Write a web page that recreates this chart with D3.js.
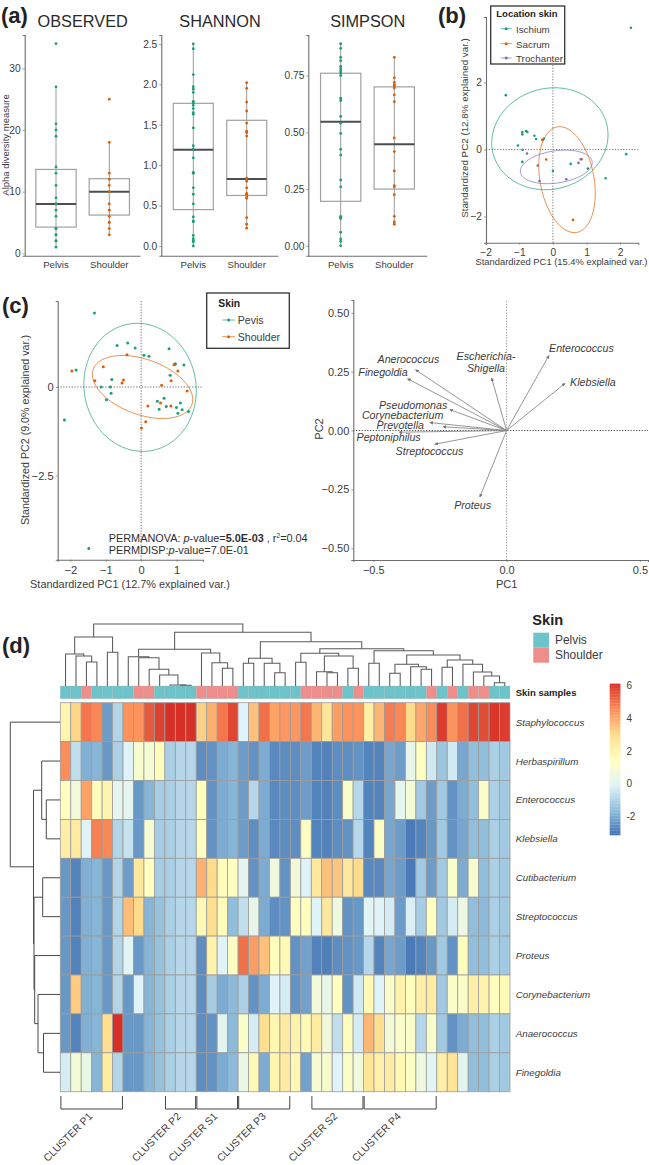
<!DOCTYPE html>
<html><head><meta charset="utf-8">
<script src="https://cdnjs.cloudflare.com/ajax/libs/d3/7.8.5/d3.min.js"></script>
<style>html,body{margin:0;padding:0;background:#fff}svg{display:block}text{font-family:"Liberation Sans",Arial,sans-serif}</style>
</head><body><svg id="c" width="649" height="1165"></svg>
<script>
// ---------- (a) alpha diversity ----------
const groups = ["Pelvis","Shoulder"];
const observedTicks = [0,10,20,30];
const observedPelvis = [1,2,2,3,3,4,4,6,7,8,8,9,11,13,14,19,20,21,27,34];
const observedShoulder = [3,4,5,5,6,7,8,10,11,12,13,18,25];
const observedBoxes = [[4.25,8,13.6,1,27],[6.2,10,12.1,3,18]];
const shannonTicks = [0,0.5,1,1.5,2,2.5];
const shannonPelvis = [0,.05,.07,.09,.13,.3,.31,.36,.52,.64,.72,.9,.91,1.09,1.2,1.24,1.46,1.63,1.65,1.7,1.74,1.77,1.79,1.9,1.94,1.97,2.12,2.44,2.5];
const shannonShoulder = [.22,.27,.35,.59,.61,.64,.65,.72,.8,.82,.84,1.36,1.4,1.42,1.52,1.67,1.78,1.95,2.02];
const shannonBoxes = [[.45,1.19,1.765,0,2.5],[.625,.83,1.555,.22,2.02]];
const simpsonTicks = [0,0.25,0.5,0.75];
const simpsonPelvis = [0,.02,.03,.06,.12,.125,.13,.26,.29,.40,.425,.495,.54,.57,.64,.65,.75,.76,.77,.78,.79,.815,.83,.87,.89];
const simpsonShoulder = [.095,.105,.13,.225,.26,.265,.33,.415,.475,.635,.665,.695,.705,.71,.72,.74,.83];
const simpsonBoxes = [[.196,.546,.76,0,.89],[.25,.447,.70,.09,.83]];

// ---------- (b) PCA by location ----------
const ischium = [[2.32,3.63],[-1.40,1.62],[-.91,.52],[-.91,.45],[-.8,.55],[-.76,.52],[-.55,.41],[-.5,.31],[-.27,.32],[-.31,.28],[-1.04,.12],[-.9,-.01],[-.91,-.37],[0,-.64],[.53,-.43],[1.04,-.57],[1.57,-.86],[2.18,-.14]];
const sacrum = [[-.2,-.3],[.85,-.29],[.6,-2.1],[-.31,.29]];
const trochanter = [[-.77,-.12],[-.45,-.48],[-.4,-.94],[.4,-.89],[.76,-.4],[.83,-.29]];
const locationNames = ["Ischium","Sacrum","Trochanter"];
// centre x, centre y, half width, half height, correlation
const locationEllipses = [[-.09,.32,1.73,1.52,.08],[.42,-.9,.84,1.58,-.26],[.1,-.52,1.07,.5,.25]];
const bTicksX = [-2,-1,0,1,2];
const bTicksY = [-2,0,2];

// ---------- (c) PCA by skin ----------
const pelvisPts = [[-1.32,2.09],[-.68,1.17],[-.38,1.24],[-.17,1.10],[.79,1.08],[.08,.90],[.22,.87],[-1.84,.48],[.97,.66],[.95,.64],[1.21,.62],[.82,.33],[-.83,.21],[-1.13,0],[-.87,0],[-.85,-.18],[-.98,-.36],[-2.17,-.93],[.46,-.40],[.65,-.32],[.51,-.63],[.71,-.55],[1.0,-.58],[1.11,-.45],[1.16,-.64],[1.04,-.74],[1.34,-.69],[-1.48,-4.56]];
const shoulderPts = [[-1.96,.45],[-1.07,.57],[-1.31,.18],[-.54,.11],[-.50,.20],[-.40,.91],[.93,.63],[1.04,.45],[.85,.18],[.58,.05],[1.30,-.11],[.55,-.45],[.19,-.54],[.84,-.54],[.13,-.98],[.01,-1.16]];
const skinNames = ["Pevis","Shoulder"];
const skinEllipses = [[-.03,-.01,1.59,1.81,-.05],[.04,0,1.42,.89,-.4]];
const cTicksX = [-2,-1,0,1];
const cTicksY = [-2.5,0];

// ---------- (c) loadings ----------
const loadingNames = ["Enterococcus","Klebsiella","Escherichia-Shigella","Anerococcus","Finegoldia","Pseudomonas","Corynebacterium","Prevotella","Peptoniphilus","Streptococcus","Proteus"];
const loadingPC1 = [.159,.219,-.056,-.341,-.371,-.2125,-.2875,-.2375,-.4025,-.269,-.1];
const loadingPC2 = [.319,.2,.223,.258,.22,.089,.034,.016,-.007,-.058,-.282];
const loadTicksX = [-.5,0,.5];
const loadTicksY = [-.5,-.25,0,.25,.5];

// ---------- (d) heatmap ----------
const taxa = ["Staphylococcus","Herbaspirillum","Enterococcus","Klebsiella","Cutibacterium","Streptococcus","Proteus","Corynebacterium","Anaerococcus","Finegoldia"];
const sampleSkin = "PPSPPPPSSPPPPSSSSPPPPPPSSSSPSPPPPPPSPSPSSPP".split("");
const staphylococcus = [1.9,3.1,4.9,4.6,-2.3,-1,4.4,4.4,5.4,5.8,6.1,6.1,6.1,3.2,3.8,4.9,5.7,-.1,3.5,5,4.1,4.3,4.3,4.9,3.7,2.6,4.2,4.4,4.4,2.2,3.7,4.8,4.6,3,4,4.5,5.9,4.4,5,5.7,5.6,6,5.9];
const herbaspirillum = [4.5,-.7,-1.9,-1.8,-2.4,-1.1,-.1,1,.9,1.5,-1.1,-.9,-.9,-2.6,-2.5,-2,-1.8,-2.3,-2.5,-2,-2.7,-2.6,-2.6,-2.3,-2.8,-2.85,-2.6,-2.6,-2.5,-2.8,-2.8,-2.1,-2.3,.3,1.4,-.4,-1.4,-.4,-2.1,-1.6,-1.6,-1.1,-1.3];
const enterococcus = [1.4,.7,4.1,1.5,1.9,.2,.2,-2.4,-1.8,-1.2,-1.1,-.9,-.9,1.5,-2.5,-2,-1.8,-2.3,-.9,-2,-2.7,-2.6,-2.6,-2.3,-2.8,-2.85,-2.6,1.1,-.9,-2.8,-2.8,-2.1,.2,.8,-1.3,-2.3,-1.3,-2.5,-2,-1.6,1.1,-1.1,-1.3];
const klebsiella = [2.2,2.4,-.1,4.7,4.6,-1,-.6,-2.4,.9,-1.2,-1.1,-.9,-.9,1.4,-2.5,-2,-1.8,-2.3,-2.6,-2,-2.7,-2.6,-2.6,1.3,-2.8,-2.85,-2.6,-2.5,-.9,-2.8,1.3,-2.1,-2.3,-3,-2.8,-2.4,-1.3,-2.5,-2.1,-1.6,-1.6,-1.1,-1.3];
const cutibacterium = [-2.4,-2.8,-1.9,-1.8,-2.4,-1,-2.3,2.5,1.4,-1.2,-1.1,-.9,-.9,3.8,3,1.5,1.4,.2,-2.5,-2,.6,-2.5,.7,-.1,2.5,3.5,3.4,2.5,3,-2.7,-2.7,-2.1,-2.3,-3,-1.3,-2.3,-1.3,1.1,-2,1,-1.6,-1.1,-1.3];
const streptococcus = [-2.4,-2.85,-1.9,-1.8,-2.4,-1,3.6,3,-1.8,-1.5,-1.1,-.9,-.9,1.7,2.9,1.6,-1.6,-.7,.3,-2,-2.6,-2.5,1.4,1.4,-.1,2.5,.6,-2.5,-2.4,0,-.1,-.3,-2.3,-.2,-1.2,1.4,-1.3,-.3,.5,-1.6,-1.7,-1.1,-1.3];
const proteus = [-2.4,-2.85,-1.9,-1.8,-2.4,-1,0,-2.4,-1.8,-1.5,-1.1,-.9,-.9,-2.6,2,-.1,1.3,5,4.2,3.5,1.5,1.7,-2.5,-2.2,-2.85,-2.9,-2.6,-2.5,-2.4,-.9,-2.8,-2.1,-2.3,-3,-2.8,-2.4,-1.3,-2.5,1.5,-1.6,-1.6,-1.1,-1.3];
const corynebacterium = [-2.4,3.3,-1.9,-1.8,-2.4,-1,-2.4,-.1,-1.8,-1.5,-1.1,-.9,-.9,-2.6,-1.2,-2,-1.7,-1.1,-2.5,-2,-.1,-.3,-2.5,-2.2,.7,.3,1.4,-2.5,-.4,1.7,-.1,1.1,2,1.5,2.2,2.3,-1.3,1.2,1.2,2.2,2,1.5,1.7];
const anaerococcus = [-2.4,-2.8,-1.9,-1.8,2.9,6.1,-2.4,-2.4,-1.8,-1.5,-1.1,-.9,-.9,-2.6,-2.5,.1,-1.7,1.1,-.3,2.9,1.8,2.4,2,1.7,2.3,.7,-.7,1.5,-.3,3.7,2.9,.8,1.1,1.1,-.9,1.1,-1.3,-2.5,-2,-1.6,-1.6,-1.1,-1.3];
const finegoldia = [-.3,.8,.4,-1.8,2.3,-1,-2.4,-2.4,-1.8,-1.5,-1.1,-.9,-.9,-2.6,-2.5,-2,-1.7,.4,1.7,-2,1.9,2.4,1.8,-2.2,.9,1,-.1,1.2,.6,2.6,2.1,2.3,1.7,1.3,.6,0,2.2,2.7,.1,-1.6,-1.6,-1.1,-1.3];
const heatRows = [staphylococcus,herbaspirillum,enterococcus,klebsiella,cutibacterium,streptococcus,proteus,corynebacterium,anaerococcus,finegoldia];
const heatStops = [-3.1,-1.6,-.1,1.4,2.9,4.5,6.1];
const heatColours = ["#4575B4","#91BFDB","#E0F3F8","#FFFFBF","#FEE090","#FC8D59","#D73027"];
const legendTicks = [-2,0,2,4,6];
// dendrograms: [height, left, right]; a number is a leaf index
const sampleTree = [62,
  [49,[32,0,[30,1,[24,2,3]]],[33.7,4,5]],
  [53.7,
    [36.7,
      [29.3,6,[28.3,7,[16.7,8,[11,9,[1,10,[.7,11,12]]]]]],
      [33,13,[23.3,14,[17.7,15,16]]]],
    [44.3,
      [27.7,[22.7,17,18],[22.7,19,[13.3,20,21]]],
      [37.3,
        [32.7,[23.7,22,23],[30,[14.3,24,[13.3,25,26]],[17.7,27,28]]],
        [35.3,[22.7,29,30],
          [31,
            [21.7,[12.7,31,32],[19.3,33,[16.7,34,35]]],
            [26,[18.7,36,37],[21.7,38,[14,39,[10,40,[3.3,41,42]]]]]]]]]]];
const taxonTree = [49.7,0,[26.5,[18.3,1,[13.7,2,3]],[26,[17.3,4,5],[25.3,6,[22,7,[16.5,8,9]]]]]];
const clusterNames = ["CLUSTER P1","CLUSTER P2","CLUSTER S1","CLUSTER P3","CLUSTER S2","CLUSTER P4"];
const clusterFirst = [0,10,13,17,24,29];
const clusterLast = [5,12,16,21,28,35];

// ---------- drawing ----------
const GREEN="#1B9E77", ORANGE="#D95F02", PURPLE="#7570B3", TEXT="#3c3c3c", AXIS="#6e6e6e";
const svg = d3.select("#c");
const label=(x,y,s,size,o={})=>{const t=svg.append("text").attr("x",x).attr("y",y).attr("font-size",size)
  .attr("fill",o.fill||TEXT).attr("text-anchor",o.anchor||"start").text(s);
  if(o.bold)t.attr("font-weight","bold"); if(o.italic)t.attr("font-style","italic");
  if(o.rot!==undefined)t.attr("transform",`rotate(${o.rot} ${x} ${y})`); return t;};
function axes(x,y,ticksX,ticksY,h,fs,fmtX,fmtY,xPad){
  const gy=svg.append("g").attr("transform",`translate(${x.range()[0]},0)`)
    .call(d3.axisLeft(y).tickValues(ticksY).tickSize(2).tickPadding(2).tickFormat(fmtY));
  const gx=svg.append("g").attr("transform",`translate(0,${y.range()[0]})`)
    .call(ticksX?d3.axisBottom(x).tickValues(ticksX).tickSize(2).tickPadding(xPad||4).tickFormat(fmtX):d3.axisBottom(x).tickValues([]).tickSize(0));
  [gx,gy].forEach(g=>{g.selectAll("path").attr("stroke",AXIS).attr("stroke-width",1.1);
    g.selectAll("line").attr("stroke",AXIS).attr("stroke-width",.7);
    g.selectAll("text").attr("fill",TEXT).attr("font-size",fs).attr("font-family",'"Liberation Sans",Arial,sans-serif');});
  return gx;
}
function boxPanel(title,titleX,left,right,pos,bw,y,ticks,fmt,boxes,pel,sho){
  const x=d3.scalePoint().domain(groups).range(pos);
  const xAxis=d3.scaleLinear().domain([left,right]).range([left,right]);
  label(titleX,27,title,16.3,{anchor:"middle",fill:"#2a2a2a"});
  [pel,sho].forEach((vals,g)=>{
    const cx=x(groups[g]),b=boxes[g];
    svg.append("line").attr("x1",cx).attr("x2",cx).attr("y1",y(b[3])).attr("y2",y(b[4])).attr("stroke","#9a9a9a").attr("stroke-width",1);
    svg.append("rect").attr("x",cx-bw/2).attr("width",bw).attr("y",y(b[2])).attr("height",y(b[0])-y(b[2])).attr("fill","none").attr("stroke","#a0a0a0").attr("stroke-width",1.2);
    svg.append("line").attr("x1",cx-bw/2).attr("x2",cx+bw/2).attr("y1",y(b[1])).attr("y2",y(b[1])).attr("stroke","#4a4f52").attr("stroke-width",2);
    svg.append("g").selectAll("circle").data(vals).join("circle").attr("cx",cx).attr("cy",d=>y(d)).attr("r",1.4).attr("fill",g?ORANGE:GREEN);
    label(cx,268,groups[g],9.6,{anchor:"middle"});
  });
  axes(xAxis,y,null,ticks,0,10.2,null,fmt);
}
boxPanel("OBSERVED",82.7,24.7,140,[56,109.3],40.3,d3.scaleLinear().domain([-.39,35.4]).range([255.7,35]),observedTicks,d3.format("d"),observedBoxes,observedPelvis,observedShoulder);
boxPanel("SHANNON",220,161.3,278,[193.3,246.7],40,d3.scaleLinear().domain([-.12,2.61]).range([255.7,35]),shannonTicks,d3.format(".1f"),shannonBoxes,shannonPelvis,shannonShoulder);
boxPanel("SIMPSON",367.7,308.3,426.7,[340.7,394.3],40.3,d3.scaleLinear().domain([-.0435,.9285]).range([255.7,35]),simpsonTicks,d3.format(".2f"),simpsonBoxes,simpsonPelvis,simpsonShoulder);
label(9,145,"Alpha diversity measure",9.5,{anchor:"middle",rot:-90});
label(1,23,"(a)",22,{bold:true,fill:"#222"});

const ellipseLine=(x,y,e)=>{
  const ang=d3.range(0,361,4).map(a=>a*Math.PI/180);
  return d3.line().x(t=>x(e[0]+e[2]*Math.cos(t))).y(t=>y(e[1]+e[3]*(e[4]*Math.cos(t)+Math.sqrt(1-e[4]*e[4])*Math.sin(t))))(ang);
};
function zeroLines(x,y,stV,stH){
  svg.append("line").attr("x1",x(0)).attr("x2",x(0)).attr("y1",y.range()[0]).attr("y2",y.range()[1]).attr("stroke",stV).attr("stroke-width",1).attr("stroke-dasharray","1.2 1.6");
  svg.append("line").attr("x1",x.range()[0]).attr("x2",x.range()[1]).attr("y1",y(0)).attr("y2",y(0)).attr("stroke",stH).attr("stroke-width",1).attr("stroke-dasharray","1.2 1.6");
}
function legend(x0,y0,w,h,title,titleX,titleY,titleFs,names,cols,lx1,lx2,tx,ys,fs){
  svg.append("rect").attr("x",x0).attr("y",y0).attr("width",w).attr("height",h).attr("fill","#fff").attr("stroke","#333").attr("stroke-width",1.3);
  label(titleX,titleY,title,titleFs,{bold:true,fill:"#222"});
  names.forEach((n,i)=>{
    svg.append("line").attr("x1",lx1).attr("x2",lx2).attr("y1",ys[i]).attr("y2",ys[i]).attr("stroke",cols[i]).attr("stroke-width",.9).attr("opacity",.75);
    svg.append("circle").attr("cx",(lx1+lx2)/2).attr("cy",ys[i]).attr("r",1.5).attr("fill",cols[i]);
    label(tx,ys[i]+3.8,n,fs);
  });
}
function scatter(x,y,sets,cols,ells,r){
  ells.forEach((e,i)=>svg.append("path").attr("d",ellipseLine(x,y,e)).attr("fill","none").attr("stroke",cols[i]).attr("stroke-width",1).attr("opacity",.68));
  sets.forEach((pts,i)=>svg.append("g").selectAll("circle").data(pts).join("circle").attr("cx",d=>x(d[0])).attr("cy",d=>y(d[1])).attr("r",r).attr("fill",cols[i]));
}
// (b)
{
  const x=d3.scaleLinear().domain([-1.99,2.54]).range([486,638.3]);
  const y=d3.scaleLinear().domain([-2.78,3.95]).range([242.7,17]);
  zeroLines(x,y,"#777","#777");
  axes(x,y,bTicksX,bTicksY,0,10.2,d3.format("d"),d3.format("d"));
  scatter(x,y,[ischium,sacrum,trochanter],[GREEN,ORANGE,PURPLE],locationEllipses,1.3);
  legend(490.7,6,74,58,"Location skin",496.3,17,9.5,locationNames,[GREEN,ORANGE,PURPLE],500.7,511.7,516,[28.7,43.7,58],9.8);
  label(561.5,265,"Standardized PC1 (15.4% explained var.)",9.4,{anchor:"middle"});
  label(468,128,"Standardized PC2 (12.8% explained var.)",9.8,{anchor:"middle",rot:-90});
  label(438,23,"(b)",22,{bold:true,fill:"#222"});
}
// (c) scores
{
  const x=d3.scaleLinear().domain([-2.36,1.75]).range([57.7,203]);
  const y=d3.scaleLinear().domain([-4.88,2.43]).range([559.7,301]);
  zeroLines(x,y,"#666","#666");
  axes(x,y,cTicksX,cTicksY,0,11.2,d3.format("d"),d3.format(".1~f"));
  scatter(x,y,[pelvisPts,shoulderPts],[GREEN,ORANGE],skinEllipses,1.5);
  legend(206.7,293,82.6,55.3,"Skin",218.3,306.7,10.3,skinNames,[GREEN,ORANGE],222.3,235,237.7,[320,336.7],10.6);
  label(130,587.7,"Standardized PC1 (12.7% explained var.)",10.9,{anchor:"middle"});
  label(29,430,"Standardized PC2 (9.0% explained var.)",10.7,{anchor:"middle",rot:-90});
  label(2,313,"(c)",22,{bold:true,fill:"#222"});
  const t=svg.append("text").attr("x",108.7).attr("y",541.7).attr("font-size",10.9).attr("fill","#2f2f2f");
  t.append("tspan").text("PERMANOVA: ");
  t.append("tspan").attr("font-style","italic").text("p");
  t.append("tspan").text("-value=");
  t.append("tspan").attr("font-weight","bold").text("5.0E-03");
  t.append("tspan").text(" , r");
  t.append("tspan").attr("font-size",6.5).attr("dy",-3.5).text("2");
  t.append("tspan").attr("dy",3.5).text("=0.04");
  const u=svg.append("text").attr("x",108.7).attr("y",554.3).attr("font-size",10.9).attr("fill","#2f2f2f");
  u.append("tspan").text("PERMDISP:");
  u.append("tspan").attr("font-style","italic").text("p");
  u.append("tspan").text("-value=7.0E-01");
}
// (c) loadings
{
  const x=d3.scaleLinear().domain([-.575,.5306]).range([353.3,648]);
  const y=d3.scaleLinear().domain([-.55,.5547]).range([560,300]);
  zeroLines(x,y,"#999","#444");
  axes(x,y,loadTicksX,loadTicksY,0,11,d3.format(".1f"),d3.format(".2f"));
  label(506.7,587.7,"PC1",11,{anchor:"middle"});
  label(323,429,"PC2",11,{anchor:"middle",rot:-90});
  const defs=svg.append("defs");
  defs.append("marker").attr("id","ah").attr("viewBox","0 0 6 6").attr("refX",5).attr("refY",3).attr("markerWidth",3.6).attr("markerHeight",3.6).attr("markerUnits","userSpaceOnUse").attr("orient","auto")
    .append("path").attr("d","M0,0L6,3L0,6Z").attr("fill","#777");
  svg.append("g").selectAll("line").data(loadingNames).join("line")
    .attr("x1",x(0)).attr("y1",y(0)).attr("x2",(d,i)=>x(loadingPC1[i])).attr("y2",(d,i)=>y(loadingPC2[i]))
    .attr("stroke","#8a8a8a").attr("stroke-width",.9).attr("marker-end","url(#ah)");
  const place={Enterococcus:[549,351.7,"start"],Klebsiella:[570,386,"start"],Anerococcus:[439.3,362.7,"end"],Finegoldia:[407.7,376.3,"end"],Pseudomonas:[447.3,409.3,"end"],Corynebacterium:[443.3,418.8,"end"],Prevotella:[424,429.2,"end"],Peptoniphilus:[420.7,440.7,"end"],Streptococcus:[463.3,455,"end"],Proteus:[491,509.3,"end"]};
  loadingNames.forEach(n=>{
    if(n==="Escherichia-Shigella"){label(486,360,"Escherichia-",10.7,{anchor:"middle",italic:true});label(486,372.3,"Shigella",10.7,{anchor:"middle",italic:true});}
    else{const p=place[n];label(p[0],p[1],n,10.7,{anchor:p[2],italic:true});}
  });
}
// (d)
{
  label(2,653,"(d)",22,{bold:true,fill:"#222"});
  const n=sampleSkin.length;
  const X=d3.scaleBand().domain(d3.range(n)).range([60.3,510]);
  const Y=d3.scaleBand().domain(d3.range(taxa.length)).range([702.7,1091.7]);
  const color=d3.scaleLinear().domain(heatStops).range(heatColours);
  const skinCol={P:"#6CC3C9",S:"#EE8E8A"};
  // annotation
  svg.append("g").selectAll("rect").data(sampleSkin).join("rect")
    .attr("x",(d,i)=>X(i)).attr("width",X.bandwidth()).attr("y",686).attr("height",12.7)
    .attr("fill",d=>skinCol[d]).attr("stroke","#a8b8b8").attr("stroke-width",.35);
  // cells
  heatRows.forEach((row,j)=>{
    svg.append("g").selectAll("rect").data(row).join("rect")
      .attr("x",(d,i)=>X(i)).attr("width",X.bandwidth()).attr("y",Y(j)).attr("height",Y.bandwidth())
      .attr("fill",d=>color(d)).attr("stroke","#9c9c9c").attr("stroke-width",.8);
    label(515.7,Y(j)+Y.bandwidth()/2+3.5,taxa[j],9.8,{italic:true});
  });
  label(515.7,696,"Skin samples",9.5,{bold:true,fill:"#222"});
  // dendrograms
  const hTop=d3.scaleLinear().domain([0,62]).range([686,624]);
  const hLeft=d3.scaleLinear().domain([0,49.7]).range([60,10.3]);
  function walk(t,pos,seg){
    if(typeof t==="number")return {p:pos(t),h:0};
    const a=walk(t[1],pos,seg),b=walk(t[2],pos,seg);
    seg.push([a.p,a.h,b.p,b.h,t[0]]);
    return {p:(a.p+b.p)/2,h:t[0]};
  }
  const segTop=[];walk(sampleTree,i=>X(i)+X.bandwidth()/2,segTop);
  svg.append("g").selectAll("path").data(segTop).join("path").attr("fill","none").attr("stroke","#5a5a5a").attr("stroke-width",1.05)
    .attr("d",s=>`M${s[0]},${hTop(s[1])}V${hTop(s[4])}H${s[2]}V${hTop(s[3])}`);
  const segLeft=[];walk(taxonTree,j=>Y(j)+Y.bandwidth()/2,segLeft);
  svg.append("g").selectAll("path").data(segLeft).join("path").attr("fill","none").attr("stroke","#4a4a4a").attr("stroke-width",1)
    .attr("d",s=>`M${hLeft(s[1])},${s[0]}H${hLeft(s[4])}V${s[2]}H${hLeft(s[3])}`);
  // skin legend
  label(532.3,625,"Skin",14.6,{bold:true,fill:"#222"});
  ["Pelvis","Shoulder"].forEach((g,i)=>{
    svg.append("rect").attr("x",533.3).attr("y",632.7+i*15).attr("width",15.7).attr("height",15).attr("fill",i?skinCol.S:skinCol.P);
    label(555,644.3+i*15,g,11.9);
  });
  // colour bar
  const cb=d3.scaleLinear().domain([-3.1,6.1]).range([835,683.6]);
  const steps=d3.range(-3.1,6.1,.092);
  svg.append("g").selectAll("rect").data(steps).join("rect").attr("x",609.7).attr("width",10.7)
    .attr("y",d=>cb(d+.092)).attr("height",d=>cb(d)-cb(d+.092)+.3).attr("fill",d=>color(d));
  legendTicks.forEach(v=>label(626.5,cb(v)+3.5,String(v),10));
  // clusters
  clusterNames.forEach((c,i)=>{
    const a=X(clusterFirst[i])+.6,b=X(clusterLast[i])+X.bandwidth()-.6;
    svg.append("path").attr("fill","none").attr("stroke","#444").attr("stroke-width",1).attr("d",`M${a},1096V1109H${b}V1096`);
    const ax=[93,181.5,218,266.5,338,401.5][i];
    label(ax,1117,c,10.4,{anchor:"end",rot:-45});
  });
}
</script></body></html>
